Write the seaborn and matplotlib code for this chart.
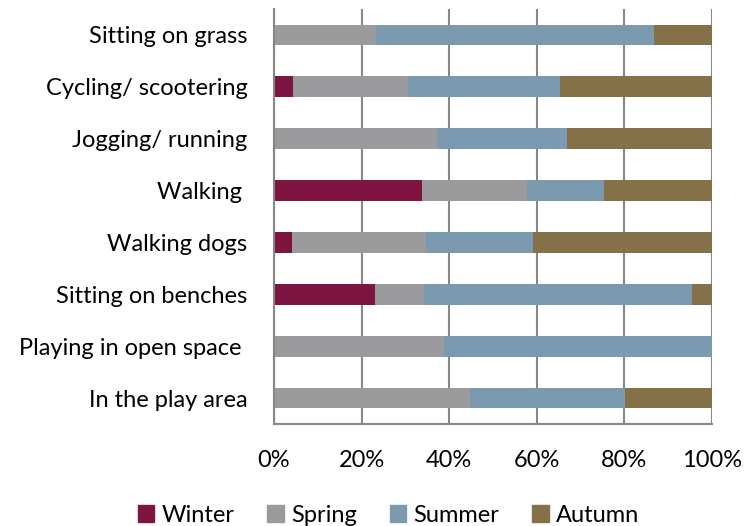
import matplotlib
matplotlib.use("Agg")
import matplotlib.pyplot as plt
import matplotlib.patches as mpatches
import numpy as np
import pandas as pd
import seaborn as sns

activities = [
    "Sitting on grass",
    "Cycling/ scootering",
    "Jogging/ running",
    "Walking ",
    "Walking dogs",
    "Sitting on benches",
    "Playing in open space ",
    "In the play area",
]
winter = [0.0, 4.3, 0.0, 33.8, 4.0, 23.0, 0.0, 0.0]
spring = [23.3, 26.3, 37.3, 24.0, 30.8, 11.2, 38.9, 44.8]
summer = [63.5, 34.6, 29.6, 17.6, 24.3, 61.2, 61.1, 35.4]
autumn = [13.2, 34.8, 33.1, 24.6, 40.9, 4.6, 0.0, 19.8]

seasons = ["Winter", "Spring", "Summer", "Autumn"]
colors = ["#7e1440", "#9b9b9d", "#7b9aaf", "#857148"]

df = pd.DataFrame(
    {"activity": activities, "Winter": winter, "Spring": spring,
     "Summer": summer, "Autumn": autumn}
)
# cumulative totals, drawn from the widest layer down so they stack
cum = df[seasons].cumsum(axis=1)

sns.set_style("white")
plt.rcParams["font.family"] = ["Lato", "DejaVu Sans"]
plt.rcParams["text.color"] = "black"
plt.rcParams["xtick.labelcolor"] = "black"
plt.rcParams["ytick.labelcolor"] = "black"

fig = plt.figure(figsize=(7.47, 5.26), dpi=100)
ax = fig.add_axes([0.3668, 0.194, 0.5864, 0.789])

for season, color in reversed(list(zip(seasons, colors))):
    sns.barplot(x=cum[season], y=df["activity"], orient="h", color=color,
                width=0.4, edgecolor="none", saturation=1, ax=ax)

grid_c = "#878787"
fs = 17
ax.set_xlim(0, 100)
ax.set_ylim(7.5, -0.5)
ax.set_xticks(np.arange(0, 101, 20))
ax.set_xticklabels([f"{v}%" for v in range(0, 101, 20)], fontsize=fs)
ax.xaxis.grid(True, color=grid_c, lw=1.5)
ax.set_axisbelow(True)
ax.tick_params(axis="x", length=6, width=1.5, color=grid_c, pad=13)
ax.tick_params(axis="y", which="major", length=0, pad=19, labelsize=fs)
ax.set_yticks(np.arange(-0.5, 8.0, 1.0), minor=True)
ax.tick_params(axis="y", which="minor", length=7, width=1.5, color=grid_c)
ax.set_xlabel("")
ax.set_ylabel("")

for side in ["top", "right"]:
    ax.spines[side].set_visible(False)
for side in ["left", "bottom"]:
    ax.spines[side].set_color(grid_c)
    ax.spines[side].set_linewidth(1.5)

handles = [mpatches.Patch(color=c, label=s) for s, c in zip(seasons, colors)]
fig.legend(handles=handles, loc="lower center", bbox_to_anchor=(0.52, -0.04),
           ncol=4, frameon=False, fontsize=fs, handlelength=0.7,
           handleheight=0.7, handletextpad=0.3, columnspacing=1.4)

fig.savefig("out.png", dpi=100)
